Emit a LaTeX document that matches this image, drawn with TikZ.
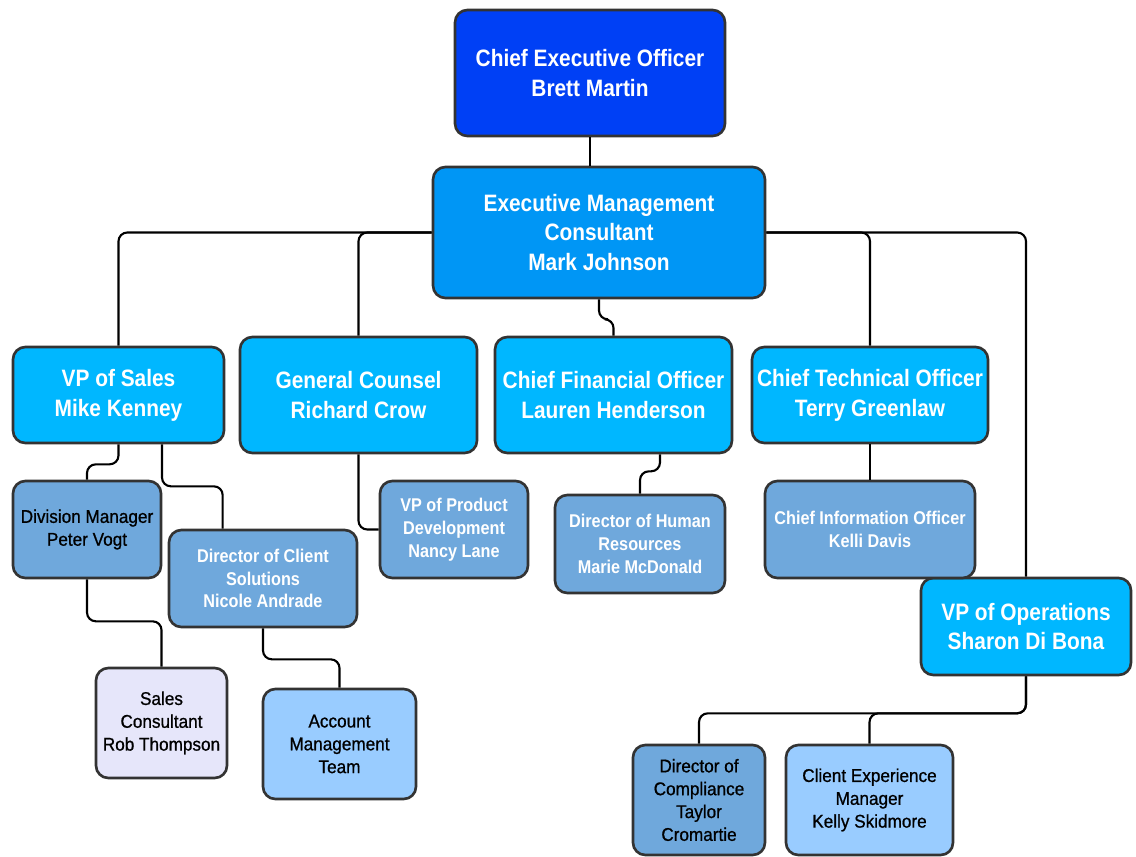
\documentclass[tikz,border=0pt]{standalone}
\usepackage{fontspec}
\setmainfont{Liberation Sans}[FakeStretch=0.88]
\newfontfamily\darkfont{Liberation Sans}[FakeStretch=0.93, FakeBold=0.8]
\usetikzlibrary{calc}

\definecolor{ceoblue}{RGB}{0,64,245}
\definecolor{mgmtblue}{RGB}{0,150,245}
\definecolor{vpblue}{RGB}{0,183,255}
\definecolor{steelblue}{RGB}{111,168,220}
\definecolor{paleblue}{RGB}{153,204,255}
\definecolor{lavender}{RGB}{230,230,250}
\definecolor{boxline}{RGB}{51,51,51}

\begin{document}
\begin{tikzpicture}[x=0.02cm, y=-0.02cm,
    box/.style={draw=boxline, line width=1.5pt, rounded corners=7pt, align=center, inner sep=0pt},
    bigbox/.style={box, text=white, font=\bfseries\fontsize{13.5}{17}\selectfont},
    smallbox/.style={box, font=\darkfont\fontsize{10.5}{13}\selectfont},
    whitebox/.style={box, text=white, font=\bfseries\fontsize{10.5}{13}\selectfont},
    link/.style={draw=black, line width=1.2pt, rounded corners=5pt}]

        \useasboundingbox (0,0) rectangle (1136,856);

        % top
        \node[bigbox, fill=ceoblue, minimum width=5.4cm, minimum height=2.52cm] (ceo) at (590,73) {Chief Executive Officer\\Brett Martin};
        \node[bigbox, fill=mgmtblue, minimum width=6.64cm, minimum height=2.62cm] (emc) at (599,232.5) {Executive Management\\Consultant\\Mark Johnson};

        % second row
        \node[bigbox, fill=vpblue, minimum width=4.22cm, minimum height=1.92cm] (vps) at (118.5,395) {VP of Sales\\Mike Kenney};
        \node[bigbox, fill=vpblue, minimum width=4.74cm, minimum height=2.32cm] (gc) at (358.5,395) {General Counsel\\Richard Crow};
        \node[bigbox, fill=vpblue, minimum width=4.74cm, minimum height=2.32cm] (cfo) at (613.5,395) {Chief Financial Officer\\Lauren Henderson};
        \node[bigbox, fill=vpblue, minimum width=4.72cm, minimum height=1.92cm] (cto) at (870,395) {Chief Technical Officer\\Terry Greenlaw};
        \node[bigbox, fill=vpblue, minimum width=4.2cm, minimum height=1.94cm] (vpo) at (1026,626.5) {VP of Operations\\Sharon Di Bona};

        % third row
        \node[smallbox, fill=steelblue, minimum width=2.96cm, minimum height=1.94cm] (dm) at (87,529.5) {Division Manager\\Peter Vogt};
        \node[whitebox, fill=steelblue, minimum width=3.76cm, minimum height=1.94cm] (dcs) at (263,578.5) {Director of Client\\Solutions\\Nicole Andrade};
        \node[whitebox, fill=steelblue, minimum width=2.96cm, minimum height=1.94cm] (vppd) at (454,529.5) {VP of Product\\Development\\Nancy Lane};
        \node[whitebox, fill=steelblue, minimum width=3.4cm, minimum height=1.96cm] (dhr) at (640,544) {Director of Human\\Resources\\Marie McDonald};
        \node[whitebox, fill=steelblue, minimum width=4.2cm, minimum height=1.94cm] (cio) at (870,529.5) {Chief Information Officer\\Kelli Davis};

        % bottom row
        \node[smallbox, fill=lavender, minimum width=2.62cm, minimum height=2.2cm] (sc) at (161.5,723) {Sales\\Consultant\\Rob Thompson};
        \node[smallbox, fill=paleblue, minimum width=3.06cm, minimum height=2.2cm] (amt) at (339.5,744) {Account\\Management\\Team};
        \node[smallbox, fill=steelblue, minimum width=2.64cm, minimum height=2.2cm] (dco) at (699,800) {Director of\\Compliance\\Taylor\\Cromartie};
        \node[smallbox, fill=paleblue, minimum width=3.34cm, minimum height=2.2cm] (cem) at (869.5,800) {Client Experience\\Manager\\Kelly Skidmore};

        % connectors
        \draw[link] (ceo.south) -- (ceo.south |- emc.north);
        \draw[link] (emc.west) -| (vps.north);
        \draw[link] (emc.west) -| (gc.north);
        \draw[link] (emc.east) -| (cto.north);
        \draw[link] (emc.east) -| (vpo.north);
        \draw[link] (emc.south) -- ++(0,20) -| (cfo.north);

        \draw[link] (vps.south) -- ++(0,20) -| (dm.north);
        \draw[link] ([xshift=0.87cm]vps.south) -- ++(0,42) -| ([xshift=1.1cm]dcs.north west);
        \draw[link] (gc.south) |- (vppd.west);
        \draw[link] ([xshift=0.93cm]cfo.south) -- ++(0,17) -| (dhr.north);
        \draw[link] (cto.south) -- (cio.north);

        \draw[link] (dm.south) -- ++(0,42) -| (sc.north);
        \draw[link] (dcs.south) -- ++(0,31) -| (amt.north);
        \draw[link] (vpo.south) -- ++(0,37) -| (dco.north);
        \draw[link] (vpo.south) -- ++(0,37) -| (cem.north);
    \end{tikzpicture}
\end{document}
